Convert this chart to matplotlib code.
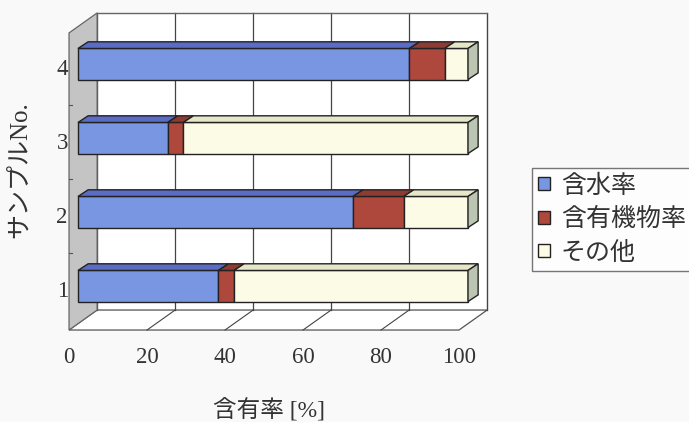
import matplotlib
matplotlib.use("Agg")
from matplotlib import pyplot as plt
from matplotlib.patches import Polygon, Patch

# データ
samples = [1, 2, 3, 4]
water = [36, 70.5, 23, 85]        # 含水率
organic = [4, 13, 4, 9]           # 含有機物率
other = [60, 16.5, 73, 6]         # その他
series_names = ["含水率", "含有機物率", "その他"]
x_ticks = [0, 20, 40, 60, 80, 100]

# 色（前面, 上面）
front_colors = ["#7896e2", "#ae483d", "#fbfbe6"]
top_colors = ["#5a6cc4", "#8e3b33", "#e6e6c8"]
end_color = "#bcc5b2"
edge = "#222222"

jp = ["Liberation Serif", "Noto Sans CJK JP"]

# 3D風の奥行き（データ単位）
BAR_H = 0.42
BAR_DX, BAR_DY = 2.6, 0.09
FLOOR_X, FLOOR_Y = -2.3, 0.405
WALL_DX, WALL_DY = 7.2, 0.27
TOP_Y = 4.42

fig = plt.figure(figsize=(6.89, 4.22), dpi=100, facecolor="#f9f9f9")
ax = fig.add_axes([0, 0, 1, 1])
ax.set_xlim(-20, 156.67)
ax.set_ylim(-0.838, 4.865)
ax.axis("off")

# 奥の壁
bx = FLOOR_X + WALL_DX
by = FLOOR_Y + WALL_DY
ax.add_patch(Polygon([(bx, by), (bx + 100, by), (bx + 100, TOP_Y + WALL_DY), (bx, TOP_Y + WALL_DY)],
                     closed=True, facecolor="white", edgecolor="#bbbbbb", lw=1, zorder=1))
for v in x_ticks:
    ax.plot([bx + v, bx + v], [by, TOP_Y + WALL_DY], color="#444444", lw=0.9, zorder=2)
ax.plot([bx, bx + 100], [TOP_Y + WALL_DY] * 2, color="#666666", lw=0.9, zorder=2)

# 床
ax.add_patch(Polygon([(FLOOR_X, FLOOR_Y), (FLOOR_X + 100, FLOOR_Y), (bx + 100, by), (bx, by)],
                     closed=True, facecolor="white", edgecolor="#555555", lw=0.9, zorder=1))
for v in x_ticks[1:-1]:
    ax.plot([bx + v, FLOOR_X + v], [by, FLOOR_Y], color="#444444", lw=0.8, zorder=2)

# 左の壁
ax.add_patch(Polygon([(FLOOR_X, FLOOR_Y), (FLOOR_X, TOP_Y), (bx, TOP_Y + WALL_DY), (bx, by)],
                     closed=True, facecolor="#c4c4c4", edgecolor="#666666", lw=0.9, zorder=2))
for c in [1.45, 2.45, 3.45]:
    ax.plot([FLOOR_X, FLOOR_X + 0.8], [c, c], color="#555555", lw=0.8, zorder=3)

# 棒
for i, c in enumerate(samples):
    left = 0
    vals = [water[i], organic[i], other[i]]
    y0, y1 = c - BAR_H / 2, c + BAR_H / 2
    for k, w in enumerate(vals):
        ax.add_patch(Polygon([(left, y0), (left + w, y0), (left + w, y1), (left, y1)],
                             closed=True, facecolor=front_colors[k], edgecolor=edge, lw=1, zorder=5))
        ax.add_patch(Polygon([(left, y1), (left + w, y1), (left + w + BAR_DX, y1 + BAR_DY),
                              (left + BAR_DX, y1 + BAR_DY)],
                             closed=True, facecolor=top_colors[k], edgecolor=edge, lw=1, zorder=5))
        left += w
    ax.add_patch(Polygon([(left, y0), (left + BAR_DX, y0 + BAR_DY), (left + BAR_DX, y1 + BAR_DY), (left, y1)],
                         closed=True, facecolor=end_color, edgecolor=edge, lw=1, zorder=5))

# 目盛りラベル
for v in x_ticks:
    ax.text(FLOOR_X + v, 0.035, str(v), ha="center", va="center", fontsize=16.5,
            family="Liberation Serif", color="#333333")
for c in samples:
    ax.text(-2.6, c - 0.08, str(c), ha="right", va="center", fontsize=16.5,
            family="Liberation Serif", color="#333333")

ax.text(49, -0.68, "含有率 [%]", ha="center", va="center", fontsize=17, family=jp, color="#333333")
ax.text(-14.9, 2.57, "サンプルNo.", ha="center", va="center", rotation=90, fontsize=18,
        family=jp, color="#333333")

# 凡例
handles = [Patch(facecolor=front_colors[k], edgecolor=edge, lw=1) for k in range(3)]
leg = fig.legend(handles, series_names, loc="upper left", bbox_to_anchor=(532 / 689, 1 - 168 / 422),
                 frameon=True, fancybox=False, handlelength=0.45, handleheight=0.45, handletextpad=0.45,
                 labelspacing=0.42, borderpad=0.25, borderaxespad=0,
                 prop={"family": jp, "size": 18})
leg.get_frame().set_edgecolor("#555555")
leg.get_frame().set_linewidth(1)
leg.get_frame().set_facecolor("white")
for t in leg.get_texts():
    t.set_color("#333333")

fig.savefig("out.png", dpi=100, facecolor=fig.get_facecolor())
